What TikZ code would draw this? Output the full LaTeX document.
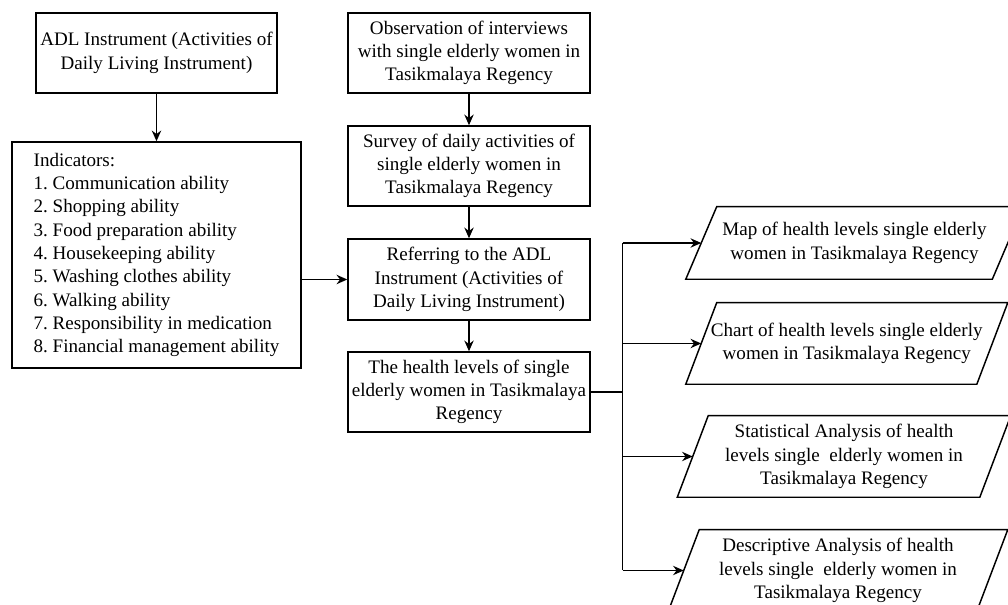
\documentclass[tikz,border=0pt]{standalone}
\usepackage{fontspec}
\setmainfont{Liberation Serif}
\usetikzlibrary{arrows.meta}
\frenchspacing

\begin{document}
\begin{tikzpicture}[x=0.75pt, y=-0.75pt,
  box/.style={draw, line width=1.1pt, align=center, inner xsep=2pt, minimum width=181.5pt, minimum height=60pt, font=\fontsize{14.3}{17.5}\selectfont},
  para/.style={align=center, inner sep=0pt, minimum height=60.75pt, font=\fontsize{14.3}{17.5}\selectfont},
  edge/.style={line width=1.1pt},
  arr/.style={line width=1.1pt, -{Stealth[length=8pt,width=7pt]}}]
\useasboundingbox (0,0) rectangle (1008,605);
\node[box, minimum width=180.75pt] (adl) at (156.5,53) {ADL Instrument (Activities of\\Daily Living Instrument)};
\node[box, minimum width=216.75pt, minimum height=169.5pt, align=left] (ind) at (156.5,255) {Indicators:\\1. Communication ability\\2. Shopping ability\\3. Food preparation ability\\4. Housekeeping ability\\5. Washing clothes ability\\6. Walking ability\\7. Responsibility in medication\\8. Financial management ability};
\node[box] (obs) at (469,53) {Observation of interviews\\with single elderly women in\\Tasikmalaya Regency};
\node[box] (survey) at (469,166) {Survey of daily activities of\\single elderly women in\\Tasikmalaya Regency};
\node[box, minimum height=60.75pt] (refer) at (469,279.5) {Referring to the ADL\\Instrument (Activities of\\Daily Living Instrument)};
\node[box, inner xsep=0pt] (health) at (469,392) {The health levels of single\\elderly women in Tasikmalaya\\Regency};
\node[para, minimum width=229.5pt, minimum height=54pt] (map) at (854.5,243) {Map of health levels single elderly\\women in Tasikmalaya Regency};
\node[para, minimum width=217.9pt] (chart) at (846.75,343.5) {Chart of health levels single elderly\\women in Tasikmalaya Regency};
\node[para, minimum width=226.5pt] (stat) at (844,456.5) {Statistical Analysis of health\\levels single\ \ elderly women in\\Tasikmalaya Regency};
\node[para, minimum width=231pt] (desc) at (838,570.5) {Descriptive Analysis of health\\levels single\ \ elderly women in\\Tasikmalaya Regency};
\foreach \p in {map,chart,stat,desc}
  \draw[edge] ([xshift=-11.6pt]\p.south west) -- ([xshift=11.6pt]\p.north west) -- ([xshift=11.6pt]\p.north east) -- ([xshift=-11.6pt]\p.south east) -- cycle;
\draw[arr] (adl) -- (ind);
\draw[arr] (ind.east |- refer.west) -- (refer.west);
\draw[arr] (obs) -- (survey);
\draw[arr] (survey) -- (refer);
\draw[arr] (refer) -- (health);
\coordinate (fork) at ([xshift=24pt]health.east);
\draw[edge] (health.east) -- (fork);
\draw[edge] (fork |- map.west) -- (fork |- desc.west);
\foreach \p in {map,chart,stat,desc}
  \draw[arr] (fork |- \p.west) -- (\p.west);
\end{tikzpicture}
\end{document}
